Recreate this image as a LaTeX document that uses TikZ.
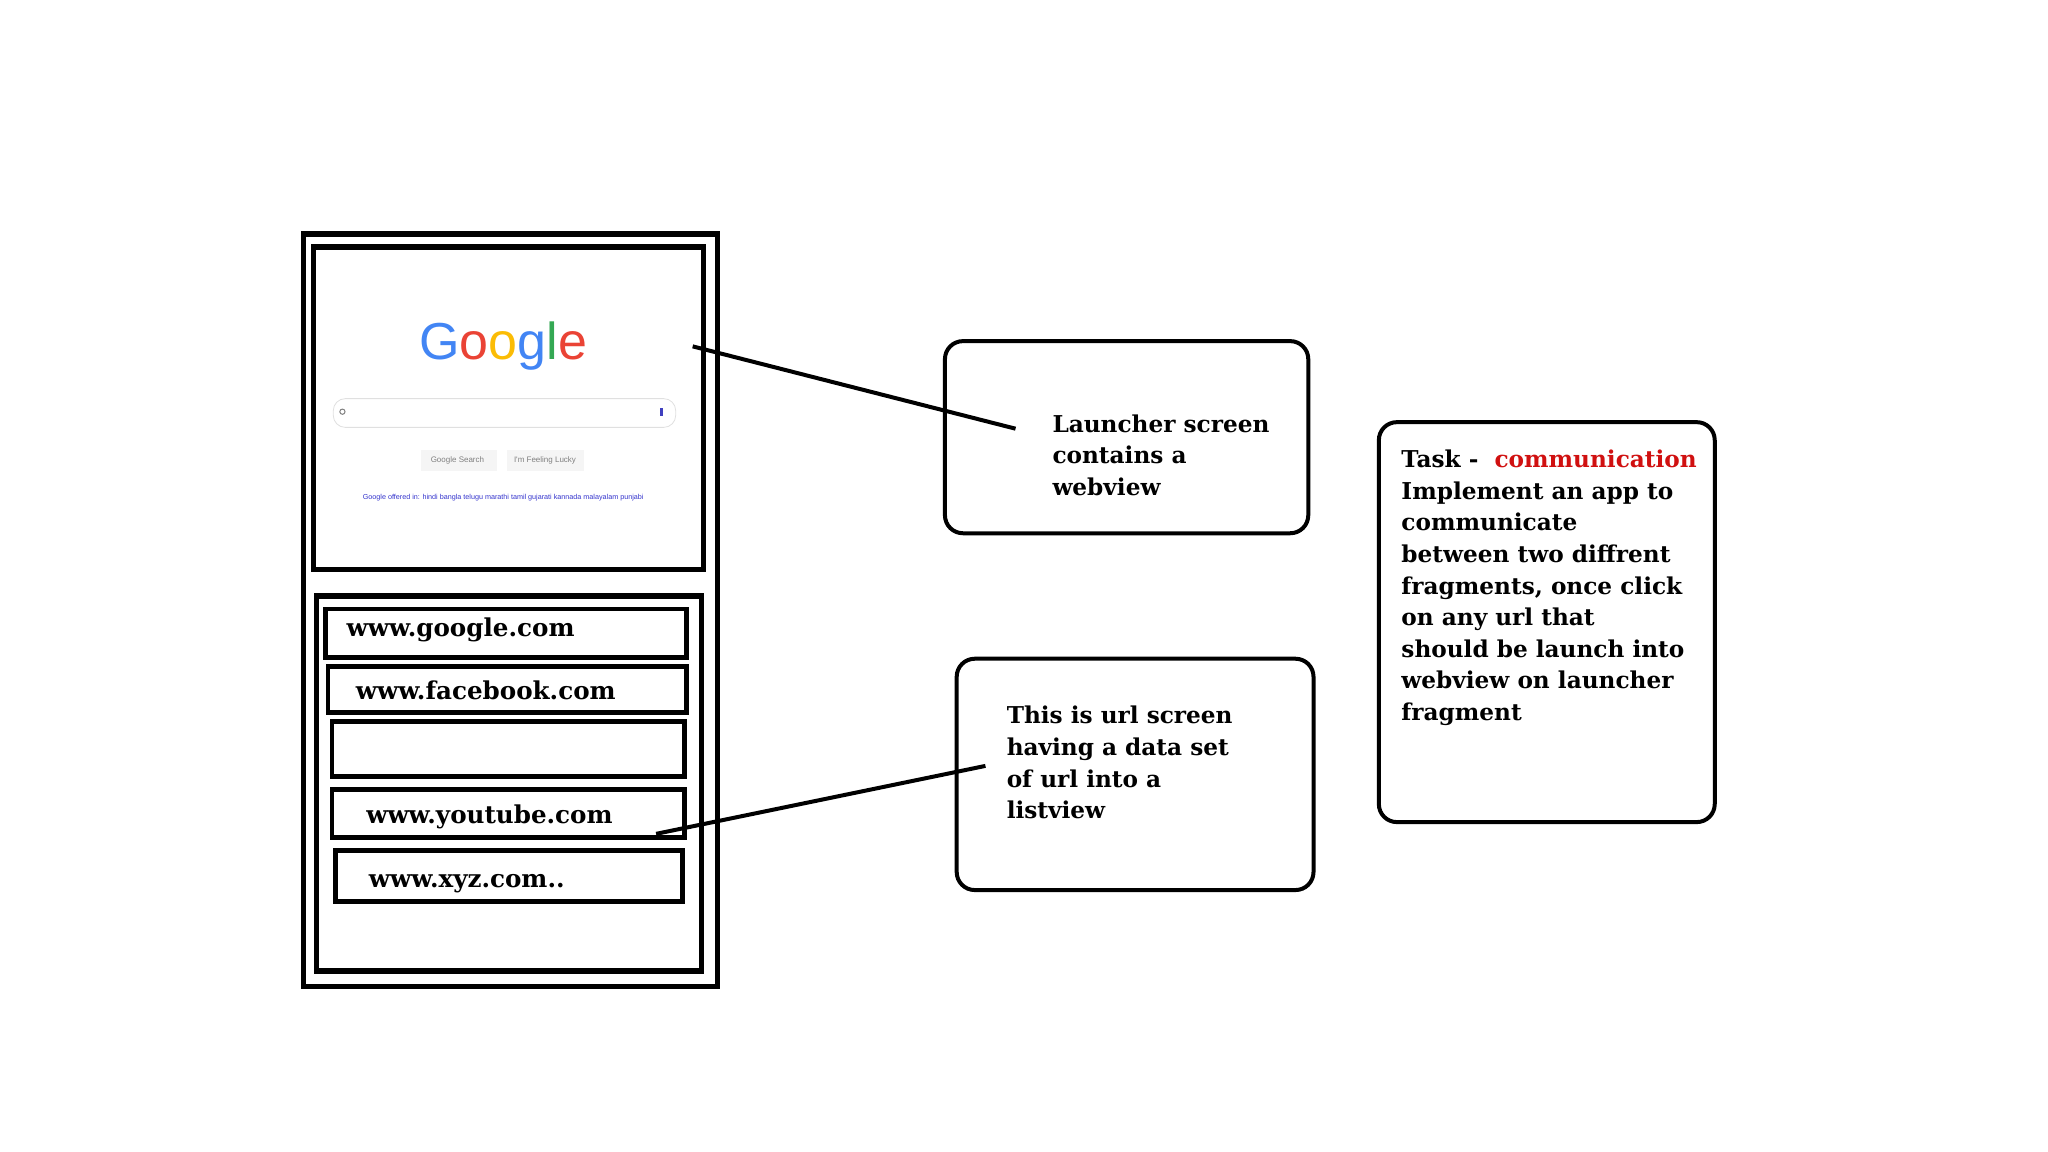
\documentclass[tikz,border=0pt]{standalone}
\usepackage{fontspec}
\setmainfont{DejaVu Serif}
\newfontfamily\gfont{Liberation Sans}
\begin{document}
\begin{tikzpicture}[x=0.6535pt,y=-0.6535pt,
  frame/.style={draw,line width=2.6pt},
  item/.style={draw,line width=2.4pt},
  callout/.style={draw,line width=2pt,rounded corners=9pt},
  txt/.style={anchor=north west,align=left,inner sep=0pt,font=\bfseries\fontsize{11.6}{15.8}\selectfont},
  ltxt/.style={anchor=west,inner sep=0pt,font=\bfseries\fontsize{12.3}{14}\selectfont},
  link/.style={line width=2pt}]
\useasboundingbox (0,0) rectangle (1567,881);
% phone
\draw[frame] (232,179) rectangle (549,755);
\draw[frame] (240,189) rectangle (538,436);
\draw[frame] (242,456) rectangle (537,743);
% google
\node (g) at (385,265) {\gfont\fontsize{26}{28}\selectfont\textcolor[HTML]{4285F4}{G}\textcolor[HTML]{EA4335}{o}\textcolor[HTML]{FBBC05}{o}\textcolor[HTML]{4285F4}{g}\textcolor[HTML]{34A853}{l}\textcolor[HTML]{EA4335}{e}};
\draw[black!12,fill=white,rounded corners=6pt] (255,305) rectangle (517,327);
\draw[gray,line width=0.5pt] (262,315) circle (2);
\fill[blue!50!gray] (505,312) rectangle (507,318);
\fill[black!4] (322,344) rectangle (380,360);
\fill[black!4] (388,344) rectangle (447,360);
\node[font=\gfont\fontsize{4}{4}\selectfont,text=gray] at (350,352) {Google Search};
\node[font=\gfont\fontsize{4}{4}\selectfont,text=gray] at (417,352) {I'm Feeling Lucky};
\node[font=\gfont\fontsize{3.6}{4}\selectfont,text=blue!60!gray] at (385,381) {Google offered in: hindi bangla telugu marathi tamil gujarati kannada malayalam punjabi};
% list
\draw[item] (249,466) rectangle (525,503);
\node[ltxt] (n1) at (265,482) {www.google.com};
\draw[item] (251,510) rectangle (525,545);
\node[ltxt] (n2) at (272,528) {www.facebook.com};
\draw[item] (254,552) rectangle (524,594);
\draw[item] (254,604) rectangle (524,641);
\node[ltxt] (n4) at (280,625) {www.youtube.com};
\draw[item] (257,651) rectangle (522,690);
\node[ltxt] (n5) at (282,676) {www.xyz.com..};
% callouts
\draw[callout] (723,261) rectangle (1001,408);
\node[txt] (t1) at (805,317) {Launcher screen\\contains a\\webview};
\draw[callout] (732,504) rectangle (1005,681);
\node[txt] (t2) at (770,540) {This is url screen\\having a data set\\of url into a\\listview};
\draw[callout] (1055,323) rectangle (1312,629);
\node[txt] (t3) at (1072,344) {Task -\ \ \textcolor[HTML]{D01010}{communication}\\Implement an app to\\communicate\\between two diffrent\\fragments, once click\\on any url that\\should be launch into\\webview on launcher\\fragment};
\coordinate (a1) at (530,265); \coordinate (b1) at (777,328);
\coordinate (a2) at (502,638); \coordinate (b2) at (754,586);
\draw[link] (a1) -- (b1);
\draw[link] (a2) -- (b2);
\end{tikzpicture}
\end{document}
